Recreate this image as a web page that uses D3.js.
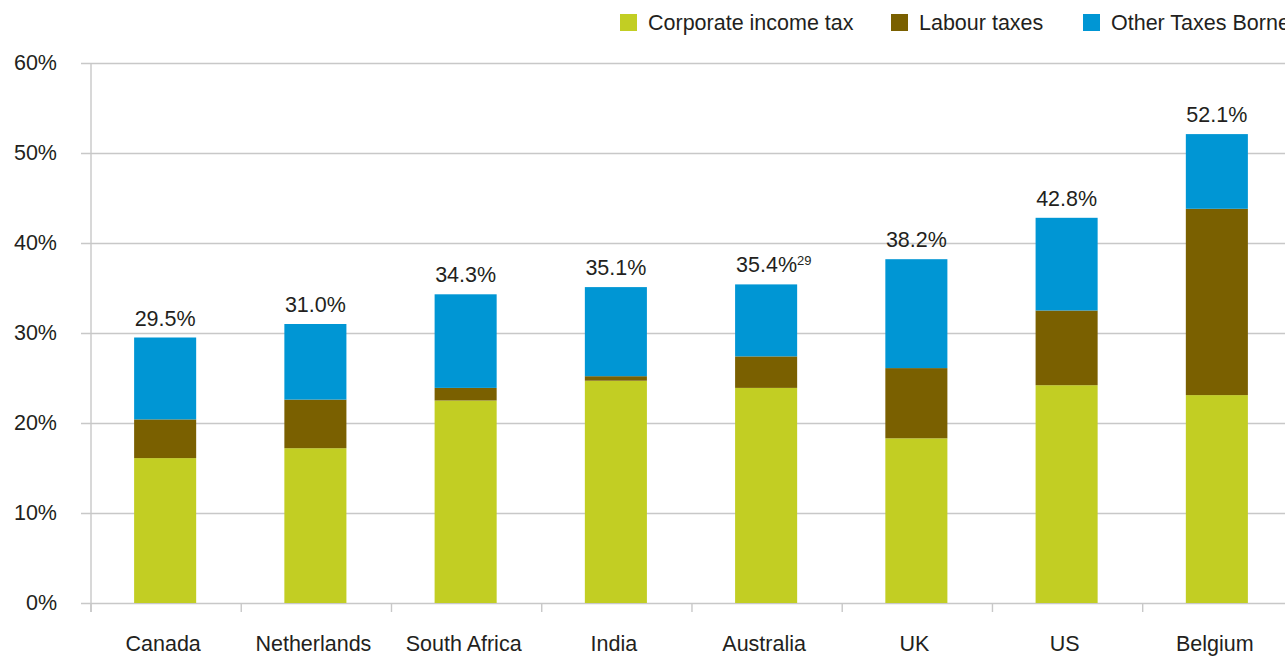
<!DOCTYPE html>
<html>
<head>
<meta charset="utf-8">
<script src="https://cdn.jsdelivr.net/npm/d3@7"></script>
<style>
  html, body { margin: 0; padding: 0; background: #fff; overflow: hidden; }
  svg { display: block; font-family: "Liberation Sans", Arial, Helvetica, sans-serif; }
</style>
</head>
<body>
<svg id="chart" width="1285" height="657"></svg>
<script>
// Total tax contribution rate by country, split by tax type (% of profit)
const countries = ["Canada", "Netherlands", "South Africa", "India", "Australia", "UK", "US", "Belgium"];
const corporateIncomeTax = [16.1, 17.2, 22.5, 24.7, 23.9, 18.3, 24.2, 23.1];
const labourTaxes        = [4.3, 5.4, 1.4, 0.5, 3.5, 7.8, 8.3, 20.7];
const otherTaxesBorne    = [9.1, 8.4, 10.4, 9.9, 8.0, 12.1, 10.3, 8.3];
const totalLabels        = ["29.5%", "31.0%", "34.3%", "35.1%", "35.4%", "38.2%", "42.8%", "52.1%"];
const footnotes          = ["", "", "", "", "29", "", "", ""];
const seriesNames        = ["Corporate income tax", "Labour taxes", "Other Taxes Borne"];
const yTicks             = [0, 10, 20, 30, 40, 50, 60];

const colors = ["#c2ce23", "#7a6000", "#0096d4"];
const textColor = "#231f20";
const gridColor = "#c8c8c8";
const fontSize = 21.5;

const svg = d3.select("#chart");

const x = d3.scaleBand()
  .domain(countries)
  .range([91, 1291])
  .paddingInner(0.587)
  .paddingOuter(0.287);

const y = d3.scaleLinear().domain([0, 60]).range([603, 63]);

// Stacked data
const rows = countries.map((c, i) => ({
  country: c,
  [seriesNames[0]]: corporateIncomeTax[i],
  [seriesNames[1]]: labourTaxes[i],
  [seriesNames[2]]: otherTaxesBorne[i]
}));
const stacked = d3.stack().keys(seriesNames)(rows);

// Horizontal gridlines + y labels
const yAxis = svg.append("g")
  .attr("transform", "translate(81,0)")
  .call(d3.axisLeft(y).tickValues(yTicks).tickFormat(d => d + "%")
    .tickSize(-1300).tickPadding(24));
yAxis.select(".domain").remove();
yAxis.selectAll(".tick line").attr("stroke", gridColor).attr("stroke-width", 1.4);
yAxis.selectAll(".tick text")
  .attr("fill", textColor)
  .style("font-size", fontSize + "px")
  .style("font-family", "'Liberation Sans', Arial, sans-serif");

// Vertical axis line
svg.append("line")
  .attr("x1", 91).attr("x2", 91)
  .attr("y1", y(60)).attr("y2", y(0) + 9)
  .attr("stroke", gridColor).attr("stroke-width", 1.4);

// Category boundary ticks
svg.append("g").selectAll("line")
  .data(countries)
  .join("line")
  .attr("x1", (d, i) => x.range()[0] + i * x.step())
  .attr("x2", (d, i) => x.range()[0] + i * x.step())
  .attr("y1", y(0))
  .attr("y2", y(0) + 9)
  .attr("stroke", gridColor)
  .attr("stroke-width", 1.4);

// Bars
svg.append("g").selectAll("g")
  .data(stacked)
  .join("g")
  .attr("fill", (d, i) => colors[i])
  .selectAll("rect")
  .data(d => d)
  .join("rect")
  .attr("x", d => x(d.data.country))
  .attr("width", x.bandwidth())
  .attr("y", d => y(d[1]))
  .attr("height", d => y(d[0]) - y(d[1]));

// Category labels
const xAxis = svg.append("g")
  .attr("transform", `translate(-2,${y(0)})`)
  .call(d3.axisBottom(x).tickSize(0).tickPadding(33));
xAxis.select(".domain").remove();
xAxis.selectAll(".tick text")
  .attr("fill", textColor)
  .style("font-size", fontSize + "px")
  .style("font-family", "'Liberation Sans', Arial, sans-serif");

// Total labels above bars
const totals = countries.map((c, i) => corporateIncomeTax[i] + labourTaxes[i] + otherTaxesBorne[i]);
const labels = svg.append("g").selectAll("text")
  .data(countries)
  .join("text")
  .attr("x", d => x(d) + x.bandwidth() / 2)
  .attr("y", (d, i) => y(totals[i]) - 12)
  .attr("text-anchor", "middle")
  .attr("fill", textColor)
  .style("font-size", fontSize + "px");
labels.append("tspan").text((d, i) => totalLabels[i]);
labels.filter((d, i) => footnotes[i] !== "")
  .attr("text-anchor", null)
  .attr("x", d => x(d) + x.bandwidth() / 2 - 30)
  .append("tspan")
  .attr("dy", -7)
  .style("font-size", "13px")
  .text((d) => footnotes[countries.indexOf(d)]);

// Legend
const legendX = [620, 891, 1083];
const legend = svg.append("g").selectAll("g")
  .data(seriesNames)
  .join("g")
  .attr("transform", (d, i) => `translate(${legendX[i]},14)`);
legend.append("rect")
  .attr("width", 17).attr("height", 17)
  .attr("fill", (d, i) => colors[i]);
legend.append("text")
  .attr("x", 28).attr("y", 16)
  .attr("fill", textColor)
  .style("font-size", fontSize + "px")
  .text(d => d);
</script>
</body>
</html>
